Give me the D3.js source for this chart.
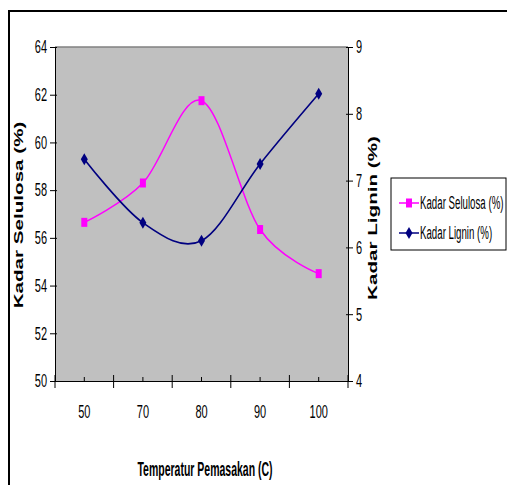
<!DOCTYPE html>
<html>
<head>
<meta charset="utf-8">
<script src="https://cdn.jsdelivr.net/npm/d3@7"></script>
<style>
  body { margin: 0; background: #fff; }
  svg text { font-family: "Liberation Sans", Arial, sans-serif; fill: #000; }
</style>
</head>
<body>
<div id="chart"></div>
<script>
// data
const categories = ["50", "70", "80", "90", "100"];
const selulosa = [56.65, 58.3, 61.75, 56.35, 54.5];
const lignin = [7.32, 6.37, 6.1, 7.25, 8.3];
const leftTicks = [50, 52, 54, 56, 58, 60, 62, 64];
const rightTicks = [4, 5, 6, 7, 8, 9];
const seriesNames = ["Kadar Selulosa (%)", "Kadar Lignin (%)"];

const W = 507, H = 485;
const plot = { left: 55, right: 348, top: 47, bottom: 381 };
const SY = 1.65; // the original is stretched vertically

const svg = d3.select("#chart").append("svg")
  .attr("width", W).attr("height", H);

// outer frame (cut off at right / bottom)
svg.append("rect")
  .attr("x", 9).attr("y", 11).attr("width", 600).attr("height", 600)
  .attr("fill", "none").attr("stroke", "#000").attr("stroke-width", 2);

const x = d3.scaleBand().domain(categories).range([plot.left, plot.right]).padding(0);
const yL = d3.scaleLinear().domain([50, 64]).range([plot.bottom, plot.top]);
const yR = d3.scaleLinear().domain([4, 9]).range([plot.bottom, plot.top]);
const cx = d => x(d) + x.bandwidth() / 2;

// plot area
svg.append("rect")
  .attr("x", plot.left).attr("y", plot.top)
  .attr("width", plot.right - plot.left).attr("height", plot.bottom - plot.top)
  .attr("fill", "#c0c0c0");
svg.append("line")
  .attr("x1", plot.left).attr("x2", plot.right)
  .attr("y1", plot.top).attr("y2", plot.top)
  .attr("stroke", "#808080").attr("stroke-width", 1.5);

// left axis
const gL = svg.append("g").attr("transform", "translate(" + plot.left + ",0)")
  .call(d3.axisLeft(yL).tickValues(leftTicks).tickFormat(d3.format("d"))
    .tickSizeInner(5).tickSizeOuter(0).tickPadding(3));
gL.selectAll(".tick line").attr("x1", 2);
gL.selectAll(".tick text")
  .attr("font-size", 11).attr("transform", "scale(1," + SY + ")");

// right axis
const gR = svg.append("g").attr("transform", "translate(" + plot.right + ",0)")
  .call(d3.axisRight(yR).tickValues(rightTicks).tickFormat(d3.format("d"))
    .tickSizeInner(5).tickSizeOuter(0).tickPadding(3));
gR.selectAll(".tick line").attr("x1", -2);
gR.selectAll(".tick text")
  .attr("font-size", 11).attr("transform", "scale(1," + SY + ")");

// bottom axis: labels at the centres, ticks between categories
const gB = svg.append("g").attr("transform", "translate(0," + plot.bottom + ")")
  .call(d3.axisBottom(x).tickSize(0).tickPadding(0));
gB.selectAll(".tick text")
  .attr("font-size", 11).attr("y", 31 / SY).attr("dy", "0.35em")
  .attr("transform", "scale(1," + SY + ")");

const bounds = categories.map(c => x(c)).concat([x.range()[1]]);
svg.append("g").selectAll("line").data(bounds).join("line")
  .attr("x1", d => d).attr("x2", d => d)
  .attr("y1", plot.bottom - 6).attr("y2", plot.bottom + 7)
  .attr("stroke", "#000");
svg.append("g").selectAll("line").data(categories).join("line")
  .attr("x1", d => cx(d)).attr("x2", d => cx(d))
  .attr("y1", plot.bottom - 4).attr("y2", plot.bottom)
  .attr("stroke", "#000");

// axis titles
function vTitle(xp, yp, txt) {
  svg.append("text")
    .attr("transform", "translate(" + xp + "," + yp + ") rotate(-90) scale(" + SY + ",1)")
    .attr("text-anchor", "middle").attr("dy", "0.35em")
    .attr("font-size", 12.5).attr("font-weight", "bold")
    .text(txt);
}
vTitle(19, 215, "Kadar Selulosa (%)");
vTitle(373, 218, "Kadar Lignin (%)");

svg.append("text")
  .attr("transform", "translate(205,469) scale(1,1.85)")
  .attr("text-anchor", "middle").attr("dy", "0.35em")
  .attr("font-size", 10.5).attr("font-weight", "bold")
  .text("Temperatur Pemasakan (C)");

// lines
const lineL = d3.line().x((d, i) => cx(categories[i])).y(d => yL(d)).curve(d3.curveCardinal.tension(0));
const lineR = d3.line().x((d, i) => cx(categories[i])).y(d => yR(d)).curve(d3.curveCardinal.tension(0));

svg.append("path").datum(selulosa).attr("d", lineL)
  .attr("fill", "none").attr("stroke", "#ff00ff").attr("stroke-width", 1.5);
svg.append("path").datum(lignin).attr("d", lineR)
  .attr("fill", "none").attr("stroke", "#000080").attr("stroke-width", 1.6);

const diamond = "M0,-6L3.5,0L0,6L-3.5,0Z";

svg.append("g").selectAll("rect").data(selulosa).join("rect")
  .attr("x", (d, i) => cx(categories[i]) - 3)
  .attr("y", d => yL(d) - 4.5)
  .attr("width", 6).attr("height", 9)
  .attr("fill", "#ff00ff");
svg.append("g").selectAll("path").data(lignin).join("path")
  .attr("transform", (d, i) => "translate(" + cx(categories[i]) + "," + yR(d) + ")")
  .attr("d", diamond).attr("fill", "#000080");

// legend
const lg = svg.append("g").attr("transform", "translate(391,178)");
lg.append("rect").attr("width", 115).attr("height", 72)
  .attr("fill", "#fff").attr("stroke", "#000");
const items = [
  { name: seriesNames[0], color: "#ff00ff", y: 25 },
  { name: seriesNames[1], color: "#000080", y: 55 }
];
items.forEach((it, i) => {
  const r = lg.append("g").attr("transform", "translate(0," + it.y + ")");
  r.append("line").attr("x1", 8).attr("x2", 28).attr("stroke", it.color).attr("stroke-width", 1.5);
  if (i === 0) {
    r.append("rect").attr("x", 15).attr("y", -4.5).attr("width", 6).attr("height", 9).attr("fill", it.color);
  } else {
    r.append("path").attr("transform", "translate(18,0)").attr("d", diamond).attr("fill", it.color);
  }
  r.append("text").attr("transform", "translate(29,0) scale(1,1.8)")
    .attr("dy", "0.35em").attr("font-size", 9.7).text(it.name);
});
</script>
</body>
</html>
